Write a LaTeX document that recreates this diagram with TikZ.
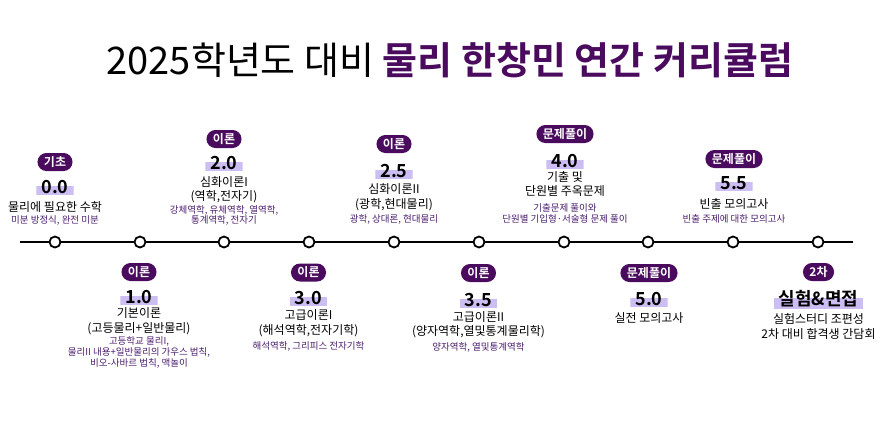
\documentclass[tikz,border=0pt]{standalone}
\usepackage{fontspec}
\setmainfont{Noto Sans CJK KR}[BoldFont={Noto Sans CJK KR Bold}]
\usepackage{tikz}
\usetikzlibrary{positioning,backgrounds}
\definecolor{deeppurple}{HTML}{4A0A5E}
\definecolor{lightlav}{HTML}{CCBDF2}
\definecolor{subpurple}{HTML}{4B1E6E}

\begin{document}
\begin{tikzpicture}[
x=1pt, y=1pt,
font=\fontsize{12}{14.5}\selectfont,
tag/.style={fill=deeppurple, text=white, font=\bfseries\fontsize{12}{12}\selectfont, rounded corners=9pt, minimum height=18pt, inner xsep=6.5pt, inner ysep=0pt},
num/.style={fill=white, font=\bfseries\fontsize{18}{18}\selectfont, inner xsep=5pt, inner ysep=1.5pt, path picture={\fill[lightlav] (path picture bounding box.south west) rectangle ([yshift=1.5pt]path picture bounding box.east);}},
main/.style={align=center, inner sep=0pt, font=\fontsize{12}{14.5}\selectfont},
sub/.style={align=center, inner sep=0pt, text=subpurple, font=\fontsize{9.5}{11}\selectfont},
dot/.style={circle, draw, line width=1.8pt, fill=white, minimum size=11pt, inner sep=0pt},
timeline/.style={line width=2pt}
]
    \useasboundingbox (0,0) rectangle (880,-420);

    % Title
    \node (title) at (450,-60) {\fontsize{38}{38}\selectfont 2025학년도 대비 \textcolor{deeppurple}{\bfseries 물리 한창민 연간 커리큘럼}};

    % Draw timeline
    \coordinate (start) at (20,-242);
    \coordinate (end) at (853,-242);
    \draw[timeline] (start) -- (end);

    \node[dot] (d0) at (55,-242) {};
    \node[dot] (d1) at (140,-242) {};
    \node[dot] (d2) at (224,-242) {};
    \node[dot] (d3) at (309,-242) {};
    \node[dot] (d4) at (394,-242) {};
    \node[dot] (d5) at (479,-242) {};
    \node[dot] (d6) at (564,-242) {};
    \node[dot] (d7) at (648,-242) {};
    \node[dot] (d8) at (733,-242) {};
    \node[dot] (d9) at (818,-242) {};

    % 0.0
    \node[tag] (tag0) at (55,-162) {기초};
    \node[num] (num0) at (55,-187) {0.0};
    \node[main] (main0) at (55,-207) {물리에 필요한 수학};
    \node[sub] (sub0) at (55,-220) {미분 방정식, 완전 미분};

    % 1.0
    \node[tag] (tag1) at (139,-272) {이론};
    \node[num] (num1) at (139,-297) {1.0};
    \node[main] (main1) at (139,-321) {기본이론\\(고등물리+일반물리)};
    \node[sub] (sub1) at (139,-352) {고등학교 물리I,\\물리II 내용+일반물리의 가우스 법칙,\\비오-사바르 법칙, 맥놀이};

    % 2.0
    \node[tag] (tag2) at (224,-139) {이론};
    \node[num] (num2) at (224,-163) {2.0};
    \node[main] (main2) at (224,-189.5) {심화이론I\\(역학,전자기)};
    \node[sub, font=\fontsize{9.5}{9.5}\selectfont] (sub2) at (224,-215.5) {강체역학, 유체역학, 열역학,\\통계역학, 전자기};

    % 3.0
    \node[tag] (tag3) at (308.5,-272.5) {이론};
    \node[num] (num3) at (308.5,-298) {3.0};
    \node[main] (main3) at (308.5,-323) {고급이론I\\(해석역학,전자기학)};
    \node[sub] (sub3) at (308.5,-346) {해석역학, 그리피스 전자기학};

    % 2.5
    \node[tag] (tag4) at (394,-144) {이론};
    \node[num] (num4) at (394,-171) {2.5};
    \node[main] (main4) at (394,-197) {심화이론II\\(광학,현대물리)};
    \node[sub] (sub4) at (394,-219) {광학, 상대론, 현대물리};

    % 3.5
    \node[tag] (tag5) at (478.5,-273) {이론};
    \node[num] (num5) at (478.5,-300) {3.5};
    \node[main] (main5) at (478.5,-324.5) {고급이론II\\(양자역학,열및통계물리학)};
    \node[sub] (sub5) at (478.5,-347) {양자역학, 열및통계역학};

    % 4.0
    \node[tag] (tag6) at (565,-134) {문제풀이};
    \node[num] (num6) at (565,-161) {4.0};
    \node[main] (main6) at (565,-184) {기출 및\\단원별 주옥문제};
    \node[sub] (sub6) at (565,-213.5) {기출문제 풀이와\\단원별 기입형·서술형 문제 풀이};

    % 5.0
    \node[tag] (tag7) at (649,-273) {문제풀이};
    \node[num] (num7) at (649,-299) {5.0};
    \node[main] (main7) at (649,-318) {실전 모의고사};

    % 5.5
    \node[tag] (tag8) at (734,-159) {문제풀이};
    \node[num] (num8) at (734,-183) {5.5};
    \node[main] (main8) at (734,-204) {빈출 모의고사};
    \node[sub] (sub8) at (734,-219) {빈출 주제에 대한 모의고사};

    % 2차
    \node[tag] (tag9) at (818.5,-272) {2차};
    \node[num] (num9) at (818.5,-299) {실험\&면접};
    \node[main] (main9) at (818.5,-326.5) {실험스터디 조편성\\2차 대비 합격생 간담회};
\end{tikzpicture}
\end{document}
